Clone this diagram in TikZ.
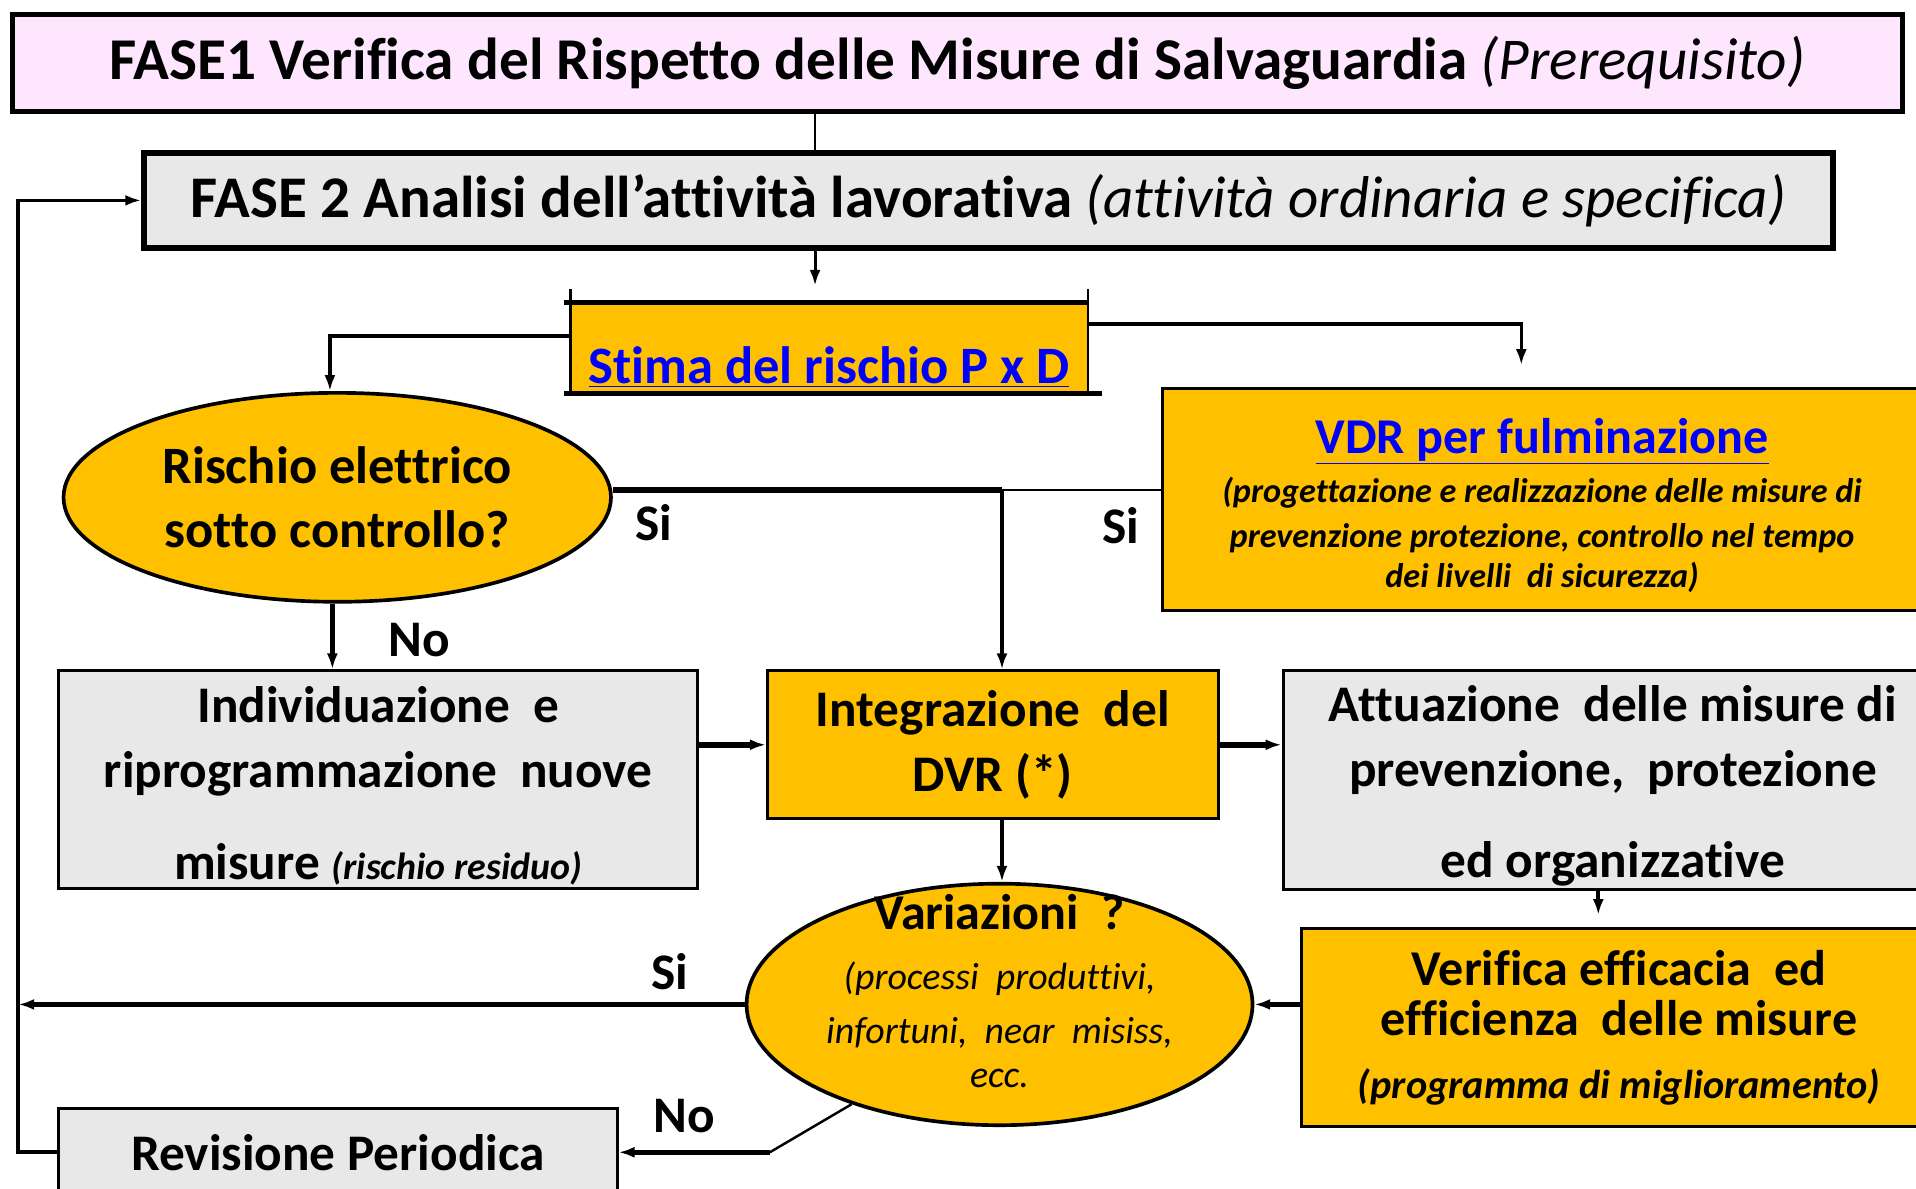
\documentclass[tikz,border=0pt]{standalone}
\usepackage{fontspec}
\setmainfont{Carlito}[Ligatures=NoCommon]
\usetikzlibrary{shapes.geometric,arrows.meta}
\definecolor{arancio}{HTML}{FFC000}
\definecolor{grigio}{HTML}{E8E8E8}
\definecolor{rosa}{HTML}{FFE6FF}
\definecolor{blu}{HTML}{0000FF}
\begin{document}
\begin{tikzpicture}[x=1pt,y=-1pt,
    box/.style={draw,rectangle,line width=2.5pt,inner sep=2pt,align=center,
      font=\bfseries\fontsize{42}{53}\selectfont},
    ovale/.style={draw,ellipse,line width=3pt,fill=arancio,inner sep=0pt,align=center,
      font=\bfseries\fontsize{43}{52}\selectfont},
    etich/.style={inner sep=0pt,font=\bfseries\fontsize{42}{50}\selectfont},
    freccia/.style={-{Latex[length=13pt,width=9pt]},line width=3pt}]
  \useasboundingbox (0,0) rectangle (1568,973);
  \fill[white] (0,0) rectangle (1568,973);
  \coordinate (asse) at (667,0);
  \coordinate (snodo) at (820,401);
  \coordinate (anello) at (15,943);
  \coordinate (piega) at (630,943);
  \draw
    (783.5,51.5) node[box,fill=rosa,line width=4pt,minimum width=1547pt,minimum height=79pt,
      font=\bfseries\fontsize{48.5}{53}\selectfont] (f1)
      {FASE1 Verifica del Rispetto delle Misure di Salvaguardia \textit{\mdseries(Prerequisito)}}
    (809,164) node[box,fill=grigio,line width=5pt,minimum width=1382pt,minimum height=78pt,
      font=\bfseries\fontsize{48.3}{53}\selectfont] (f2)
      {FASE 2 Analisi dell’attività lavorativa \textit{\mdseries(attività ordinaria e specifica)}}
    (678.5,285) node[fill=arancio,minimum width=423pt,inner xsep=0pt,inner ysep=4pt,
      text height=62pt,text depth=4pt,font=\bfseries\fontsize{43}{53}\selectfont] (stima)
      {\color{blu}\underline{Stima del rischio P x D}}
    (276,407) node[ovale,minimum width=448pt,minimum height=171pt] (rischio)
      {Rischio elettrico\\sotto controllo?}
    (1262,409) node[box,fill=arancio,minimum width=622pt,minimum height=182pt,
      font=\bfseries\fontsize{41}{36}\selectfont] (vdr)
      {\rule{0pt}{38pt}\color{blu}\underline{VDR per fulminazione}\\[4pt]
       \fontsize{28}{36}\selectfont\itshape(progettazione e realizzazione delle misure di\\[1pt]
       \fontsize{28}{36}\selectfont\itshape prevenzione protezione, controllo nel tempo\\[-3pt]
       \fontsize{28}{36}\selectfont\itshape dei livelli\ \ di sicurezza)}
    (309.5,638) node[box,fill=grigio,minimum width=523pt,minimum height=178pt] (indiv)
      {\rule{0pt}{40pt}Individuazione\ \ e\\riprogrammazione\ \ nuove\\[22pt]
       misure {\fontsize{31}{53}\selectfont\itshape(rischio residuo)}}
    (812.5,609.5) node[box,fill=arancio,minimum width=369pt,minimum height=121pt] (integ)
      {Integrazione\ \ del\\DVR (*)}
    (1320,638) node[box,fill=grigio,minimum width=540pt,minimum height=178pt] (attu)
      {\rule{0pt}{40pt}Attuazione\ \ delle misure di\\prevenzione,\ \ protezione\\[22pt]ed organizzative}
    (818,822) node[ovale,inner sep=-20pt,minimum width=414pt,minimum height=184pt,text depth=22pt,
      font=\bfseries\fontsize{41}{44}\selectfont] (var)
      {Variazioni\ \ ?\\[5pt]
       \mdseries\itshape\fontsize{31}{44}\selectfont(processi\ \ produttivi,\\
       \mdseries\itshape\fontsize{31}{44}\selectfont infortuni,\ \ near\ \ misiss,\\[-8pt]
       \mdseries\itshape\fontsize{31}{44}\selectfont ecc.}
    (1325,841) node[box,fill=arancio,minimum width=520pt,minimum height=162pt,
      font=\bfseries\fontsize{41}{41}\selectfont] (verif)
      {Verifica efficacia\ \ ed\\efficienza\ \ delle misure\\[10pt]
       \fontsize{33}{41}\selectfont\itshape(programma di miglioramento)}
    (276.5,943) node[box,fill=grigio,minimum width=457pt,minimum height=72pt] (revis)
      {Revisione Periodica};
  \draw[line width=4pt] ([xshift=-5pt]stima.north west) -- (stima.north east);
  \draw[line width=2pt] ([yshift=11pt]stima.north west) -- (stima.south west);
  \draw[line width=2pt] ([yshift=11pt]stima.north east) -- (stima.south east);
  \draw[line width=4pt] ([xshift=-5pt]stima.south west) -- ([xshift=12pt]stima.south east);
  \draw
    (535,428) node[etich] (si1) {Si}
    (917,430) node[etich] (si2) {Si}
    (343,524) node[etich] (no1) {No}
    (548,795) node[etich] (si3) {Si}
    (560,913) node[etich] (no2) {No};
  \begin{scope}[freccia]
    \draw[-,line width=2pt] (f1.south -| asse) -- (f2.north -| asse);
    \draw[line width=2.5pt,shorten >=14pt] (f2.south -| asse) -- (stima.north -| asse);
    \draw ([yshift=10pt]stima.west) -| ([xshift=-6pt]rischio.north);
    \draw[shorten >=18pt] ([yshift=20pt]stima.east) -| ([xshift=-17pt]vdr.north);
    \draw[-,line width=4.5pt] ([yshift=6pt]rischio.east) -- (snodo);
    \draw[-,line width=2pt] (vdr.west |- snodo) -- (snodo);
    \draw (snodo) -- (snodo |- integ.north);
    \draw[line width=4pt] ([xshift=-4pt]rischio.south) -- ([xshift=-4pt]rischio.south |- indiv.north);
    \draw[line width=4.5pt] (indiv.east |- integ.west) -- (integ.west);
    \draw[line width=4.5pt] (integ.east) -- (integ.east -| attu.west);
    \draw (integ.south -| snodo) -- (var.north -| snodo);
    \draw[shorten >=10pt] ([xshift=-12pt]attu.south) -- ([xshift=-12pt]attu.south |- verif.north);
    \draw[line width=4pt] (verif.west |- var.east) -- (var.east);
    \draw[line width=4.5pt] (var.west) -- (var.west -| anello);
    \draw (revis.west) -| (anello) |- (f2.west);
    \draw[-,line width=2pt] (var.214) -- (piega);
    \draw[line width=4.5pt] (piega) -- (revis.east);
  \end{scope}
\end{tikzpicture}
\end{document}
